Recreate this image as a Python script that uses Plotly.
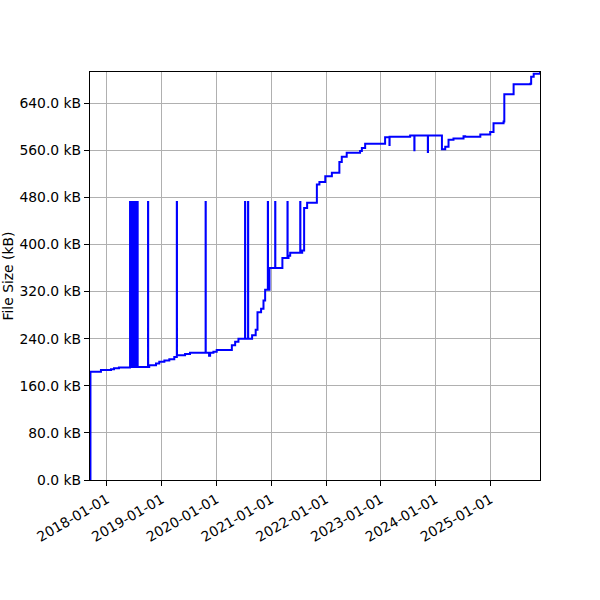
import plotly.graph_objects as go

# file size history (kB)
dates = [
    "2017-09-12", "2017-09-13", "2017-11-22", "2018-01-28", "2018-02-17", "2018-03-22",
    "2018-06-04", "2018-06-05", "2018-06-10", "2018-06-11", "2018-06-17", "2018-06-18",
    "2018-06-24", "2018-06-25", "2018-06-30", "2018-07-01", "2018-07-07", "2018-07-08",
    "2018-07-14", "2018-07-15", "2018-07-24", "2018-07-25",
    "2018-10-02", "2018-10-03", "2018-10-10", "2018-11-24", "2018-12-16", "2019-01-19",
    "2019-02-21", "2019-03-26", "2019-04-12", "2019-04-13", "2019-04-20", "2019-06-06",
    "2019-07-09", "2019-10-21", "2019-10-22", "2019-11-13", "2019-11-20", "2019-12-12",
    "2020-01-03", "2020-04-13", "2020-05-05", "2020-05-27", "2020-07-10", "2020-07-11",
    "2020-07-30", "2020-07-31", "2020-08-26", "2020-09-19", "2020-10-01", "2020-10-25",
    "2020-11-10", "2020-11-21", "2020-12-09", "2020-12-10", "2020-12-20", "2021-01-27",
    "2021-01-28", "2021-03-16", "2021-04-19", "2021-04-20", "2021-04-26", "2021-05-07",
    "2021-07-13", "2021-07-14", "2021-07-26", "2021-08-08", "2021-08-28", "2021-11-01",
    "2021-11-18", "2021-12-27", "2022-02-09", "2022-03-31", "2022-04-16", "2022-05-19",
    "2022-08-16", "2022-08-28", "2022-09-19", "2023-01-30", "2023-02-28", "2023-03-01",
    "2023-07-16", "2023-08-13", "2023-08-14", "2023-11-11", "2023-11-12", "2024-02-13",
    "2024-03-06", "2024-03-28", "2024-04-30", "2024-07-06", "2024-07-17", "2024-10-26",
    "2024-12-31", "2025-01-22", "2025-03-30", "2025-04-04", "2025-06-05", "2025-09-24",
    "2025-09-30", "2025-10-17", "2025-11-28",
]
sizes_kb = [
    0, 184, 187, 188, 190, 191,
    472, 192, 472, 192, 472, 192,
    472, 192, 472, 192, 472, 192,
    472, 192, 472, 192,
    472, 192, 195, 198, 201, 203,
    205, 209, 472, 212, 212, 214,
    216, 472, 216, 211, 216, 218,
    221, 229, 235, 240, 472, 240,
    472, 240, 246, 255, 285, 291,
    305, 323, 472, 323, 360, 472,
    360, 377, 472, 377, 381, 386,
    472, 386, 390, 462, 471, 502,
    506, 516, 522, 540, 549, 556,
    559, 564, 571, 582, 569, 583,
    585, 560, 585, 557, 585, 562,
    566, 578, 580, 584, 583, 587,
    591, 606, 609, 655, 672, 673,
    685, 690, 693,
]

y_ticks = [0, 80, 160, 240, 320, 400, 480, 560, 640]
y_labels = [f"{v:.1f} kB" for v in y_ticks]

font = dict(family="DejaVu Sans", size=13.9, color="black")

fig = go.Figure()
fig.add_trace(go.Scatter(
    x=dates, y=sizes_kb, mode="lines", line_shape="hv",
    line=dict(color="blue", width=2), showlegend=False,
))

axis_style = dict(
    showline=True, linecolor="black", linewidth=1.1, mirror=True,
    showgrid=True, gridcolor="#b0b0b0", gridwidth=1.1,
    ticks="outside", ticklen=5, tickwidth=1.1, tickcolor="black",
    zeroline=False, tickfont=font, automargin=False,
)

fig.update_xaxes(
    range=["2017-09-10", "2025-11-28"], tick0="2018-01-01", dtick="M12",
    tickformat="%Y-%m-%d", tickangle=-30, **axis_style,
)
fig.update_yaxes(
    range=[0, 693], tickvals=y_ticks, ticktext=y_labels, **axis_style,
)

# y-axis label placed by hand, close to the left edge like the original
fig.add_annotation(
    text="File Size (kB)", textangle=-90, showarrow=False,
    xref="paper", yref="paper", x=-0.1833, y=0.5,
    xanchor="center", yanchor="middle", font=font,
)

fig.update_layout(
    width=600, height=600, margin=dict(l=90, r=60, t=72, b=120),
    plot_bgcolor="white", paper_bgcolor="white", font=font,
)

# drop the page's default body margin so the figure sits at the window corner
fig.write_html(
    "out.html",
    config={"displayModeBar": False},
    post_script="document.body.style.margin = '0';",
)
